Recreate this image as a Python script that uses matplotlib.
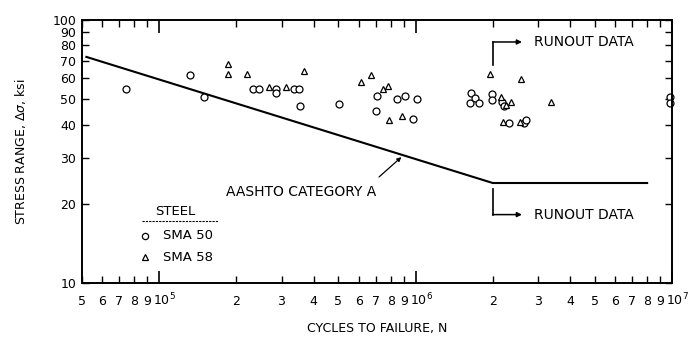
import matplotlib
matplotlib.use("Agg")
import matplotlib.pyplot as plt
import matplotlib.transforms as mtransforms
import numpy as np
from matplotlib.ticker import FixedLocator, NullLocator, FixedFormatter

plt.rcParams['font.family'] = ['DejaVu Sans']
plt.rcParams['mathtext.fontset'] = 'dejavusans'

# SMA 50 steel (circles): cycles, stress range ksi
sma50_N = [7.4e4, 1.32e5, 1.50e5, 2.32e5, 2.46e5, 2.86e5, 2.86e5, 3.35e5, 3.50e5, 3.54e5,
           5.04e5, 7.06e5, 7.03e5, 8.5e5, 9.1e5, 1.01e6, 9.8e5, 1.65e6, 1.63e6, 1.70e6,
           1.76e6, 1.98e6, 1.98e6, 2.18e6, 2.21e6, 2.31e6, 2.65e6, 2.70e6, 9.8e6, 9.8e6]
sma50_S = [54.5, 62.0, 51.0, 54.7, 54.7, 54.7, 52.6, 54.7, 54.7, 47.2,
           47.8, 51.6, 45.1, 50.1, 51.5, 49.9, 42.0, 52.6, 48.2, 50.4,
           48.2, 52.2, 49.6, 48.9, 47.1, 40.5, 40.5, 41.7, 51.0, 48.2]

# SMA 58 steel (triangles)
sma58_N = [1.855e5, 1.855e5, 2.21e5, 2.69e5, 3.11e5, 3.66e5, 6.13e5, 6.70e5, 7.44e5, 7.78e5,
           7.90e5, 8.85e5, 1.95e6, 2.58e6, 2.16e6, 2.25e6, 2.35e6, 2.19e6, 2.55e6, 3.38e6]
sma58_S = [67.9, 62.2, 62.2, 55.6, 55.6, 64.2, 58.0, 61.8, 54.5, 55.9,
           41.7, 43.0, 62.3, 59.7, 51.1, 47.5, 48.6, 41.1, 40.8, 48.6]

# AASHTO category A curve
aashto_N = [5.2e4, 2.0e6, 8.0e6]
aashto_S = [72.4, 24.0, 24.0]

decade_ticks = [1e5, 1e6, 1e7]
decade_labels = ['$10^5$', '$10^6$', '$10^7$']
x_ticks = [5e4, 6e4, 7e4, 8e4, 9e4, 2e5, 3e5, 4e5, 5e5, 6e5, 7e5, 8e5, 9e5,
           2e6, 3e6, 4e6, 5e6, 6e6, 7e6, 8e6, 9e6]
x_labels = ['5', '6', '7', '8', '9', '2', '3', '4', '5', '6', '7', '8', '9',
            '2', '3', '4', '5', '6', '7', '8', '9']
y_ticks = [10, 20, 30, 40, 50, 60, 70, 80, 90, 100]

fig = plt.figure(figsize=(6.96, 3.58), dpi=100)
ax = fig.add_axes([0.1178, 0.2095, 0.8477, 0.7346])
ax.set_xscale('log')
ax.set_yscale('log')
ax.set_xlim(5e4, 1e7)
ax.set_ylim(10, 100)

ax.plot(aashto_N, aashto_S, color='black', lw=1.5)
ax.plot(sma50_N, sma50_S, 'o', ms=5, mfc='white', mec='black', mew=0.9, ls='none', clip_on=False)
ax.plot(sma58_N, sma58_S, '^', ms=5, mfc='white', mec='black', mew=0.9, ls='none', clip_on=False)

# ticks
ax.xaxis.set_major_locator(FixedLocator(decade_ticks))
ax.xaxis.set_major_formatter(FixedFormatter(decade_labels))
ax.xaxis.set_minor_locator(FixedLocator(x_ticks))
ax.xaxis.set_minor_formatter(FixedFormatter(x_labels))
ax.yaxis.set_major_locator(FixedLocator(y_ticks))
ax.yaxis.set_minor_locator(NullLocator())
ax.yaxis.set_major_formatter(FixedFormatter([str(v) for v in y_ticks]))
ax.tick_params(axis='x', which='major', direction='in', length=9, width=1.2, top=True,
               pad=6, labelsize=9)
ax.tick_params(axis='x', which='minor', direction='in', length=5, width=1, top=True,
               pad=9, labelsize=9)
ax.tick_params(axis='y', which='major', direction='in', length=5, width=1, right=True,
               labelsize=9, pad=4)
for s in ax.spines.values():
    s.set_linewidth(1.4)

# decade labels sit with "10" just left of the tick, exponent to the right
shift = mtransforms.ScaledTranslation(-6 / 100, 0, fig.dpi_scale_trans)
for t in ax.xaxis.get_major_ticks():
    t.label1.set_horizontalalignment('left')
    t.label1.set_transform(t.label1.get_transform() + shift)

ax.set_xlabel('CYCLES TO FAILURE, N', fontsize=9, labelpad=10)
ax.set_ylabel('STRESS RANGE, Δ$\\sigma$, ksi', fontsize=9, labelpad=18)

# runout brackets
ax.plot([2e6, 2e6], [67.4, 82.5], color='black', lw=1.2)
ax.annotate('', xy=(2.6e6, 82.5), xytext=(2e6, 82.5),
            arrowprops=dict(arrowstyle='-|>', color='black', lw=1.1, mutation_scale=7,
                            shrinkA=0, shrinkB=0))
ax.text(2.9e6, 82.5, 'RUNOUT DATA', fontsize=10, va='center', ha='left')
ax.plot([2e6, 2e6], [18.2, 22.8], color='black', lw=1.2)
ax.annotate('', xy=(2.6e6, 18.2), xytext=(2e6, 18.2),
            arrowprops=dict(arrowstyle='-|>', color='black', lw=1.1, mutation_scale=7,
                            shrinkA=0, shrinkB=0))
ax.text(2.9e6, 18.2, 'RUNOUT DATA', fontsize=10, va='center', ha='left')

# category label with pointer
ax.text(1.83e5, 22.2, 'AASHTO CATEGORY A', fontsize=10, va='center', ha='left')
ax.annotate('', xy=(8.8e5, 30.1), xytext=(7.2e5, 25.3),
            arrowprops=dict(arrowstyle='-|>', color='black', lw=0.9, mutation_scale=6,
                            shrinkA=0, shrinkB=0))

# hand-drawn legend
ax.text(0.158, 0.271, 'STEEL', transform=ax.transAxes, fontsize=9.5, ha='center', va='center')
ax.plot([0.102, 0.231], [0.237, 0.237], transform=ax.transAxes, color='black', lw=0.8,
        ls=(0, (2, 1)))
ax.plot([0.107], [0.18], 'o', ms=4.5, mfc='white', mec='black', mew=0.9, transform=ax.transAxes)
ax.text(0.137, 0.18, 'SMA 50', transform=ax.transAxes, fontsize=9.5, va='center')
ax.plot([0.107], [0.098], '^', ms=4.5, mfc='white', mec='black', mew=0.9, transform=ax.transAxes)
ax.text(0.137, 0.098, 'SMA 58', transform=ax.transAxes, fontsize=9.5, va='center')

fig.savefig('out.png', dpi=100)
